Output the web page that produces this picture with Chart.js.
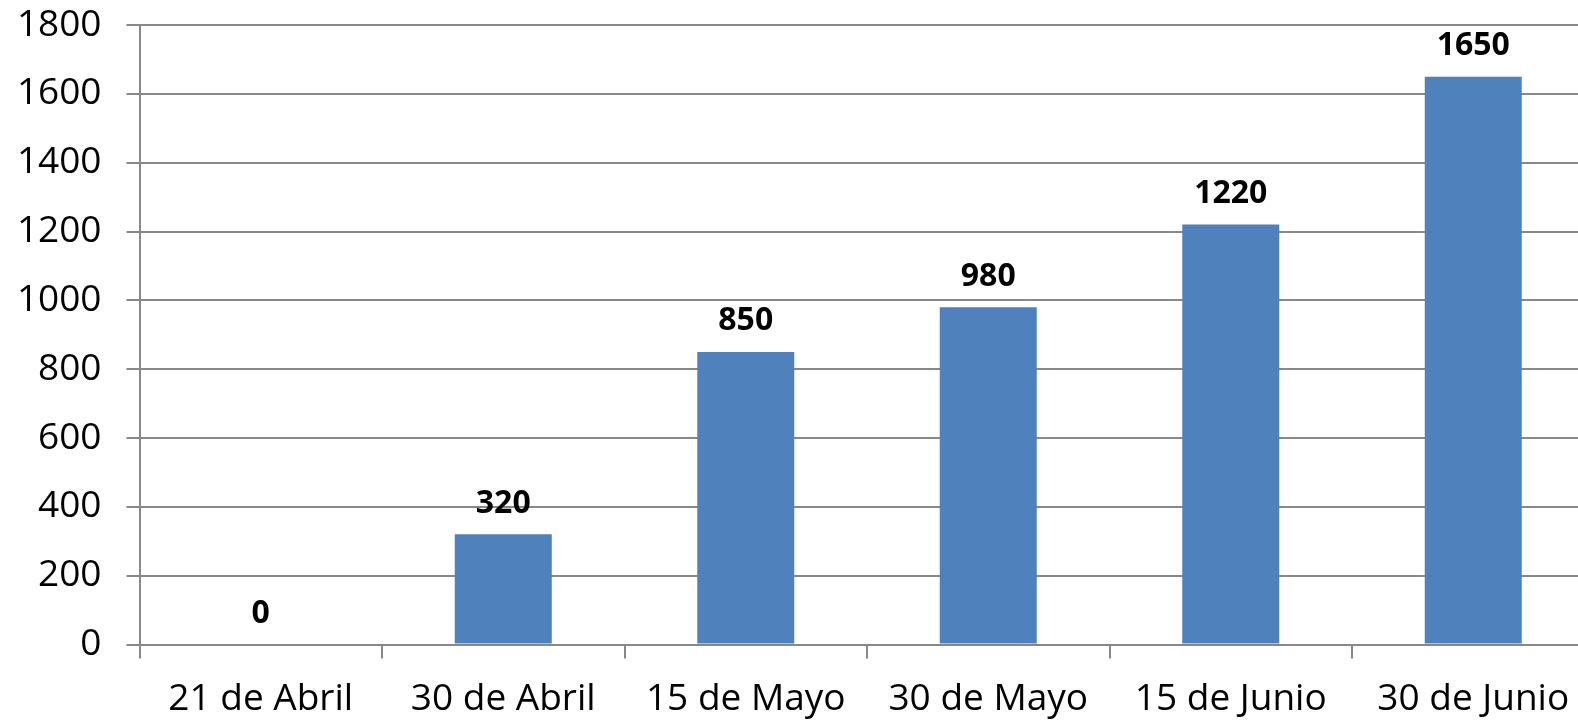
<!DOCTYPE html>
<html>
<head>
<meta charset="utf-8">
<script src="https://cdn.jsdelivr.net/npm/chart.js@4/dist/chart.umd.min.js"></script>
<style>
  html, body { margin: 0; padding: 0; background: #fff; overflow: hidden; width: 1578px; height: 721px; }
  #wrap { position: relative; width: 1600px; height: 721px; }
</style>
</head>
<body>
<div id="wrap"><canvas id="c"></canvas></div>
<script>
const categories = ['21 de Abril', '30 de Abril', '15 de Mayo', '30 de Mayo', '15 de Junio', '30 de Junio'];
const values = [0, 320, 850, 980, 1220, 1650];
const yMin = 0;
const yMax = 1800;
const yStep = 200;

const gridColor = '#888888';
const barColor = '#4F81BD';

const valueLabels = {
  id: 'valueLabels',
  afterDatasetsDraw(chart) {
    const ctx = chart.ctx;
    ctx.save();
    ctx.font = 'bold 32px "Open Sans"';
    ctx.fillStyle = '#000';
    ctx.textAlign = 'center';
    ctx.textBaseline = 'alphabetic';
    chart.data.datasets.forEach((ds, di) => {
      const meta = chart.getDatasetMeta(di);
      meta.data.forEach((bar, i) => {
        ctx.fillText(String(ds.data[i]), bar.x, bar.y - 21.5);
      });
    });
    ctx.restore();
  }
};

new Chart(document.getElementById('c'), {
  type: 'bar',
  data: {
    labels: categories,
    datasets: [{
      data: values,
      backgroundColor: barColor,
      borderWidth: 0,
      barPercentage: 0.4,
      categoryPercentage: 1.0
    }]
  },
  options: {
    responsive: true,
    maintainAspectRatio: false,
    animation: false,
    events: [],
    layout: { padding: { top: 25, right: 5.5, left: 0, bottom: 0 } },
    plugins: { legend: { display: false }, tooltip: { enabled: false } },
    scales: {
      x: {
        afterFit(scale) { scale.height = 76.5; scale.paddingLeft = 0; scale.paddingRight = 0; },
        grid: {
          offset: true,
          drawOnChartArea: false,
          drawTicks: true,
          tickLength: 14,
          color: gridColor,
          lineWidth: 2
        },
        border: { display: true, color: gridColor, width: 2 },
        ticks: {
          color: '#000',
          font: { family: '"Open Sans"', size: 37 },
          padding: 19,
          maxRotation: 0,
          autoSkip: false
        }
      },
      y: {
        min: yMin,
        max: yMax,
        afterFit(scale) { scale.width = 139.5; scale.paddingTop = 0; scale.paddingBottom = 0; },
        grid: {
          color: gridColor,
          lineWidth: 2,
          drawTicks: true,
          tickLength: 13
        },
        border: { display: true, color: gridColor, width: 2 },
        ticks: {
          stepSize: yStep,
          color: '#000',
          font: { family: '"Open Sans"', size: 37 },
          padding: 25,
          callback: (v) => String(v)
        }
      }
    }
  },
  plugins: [valueLabels]
});
</script>
</body>
</html>
